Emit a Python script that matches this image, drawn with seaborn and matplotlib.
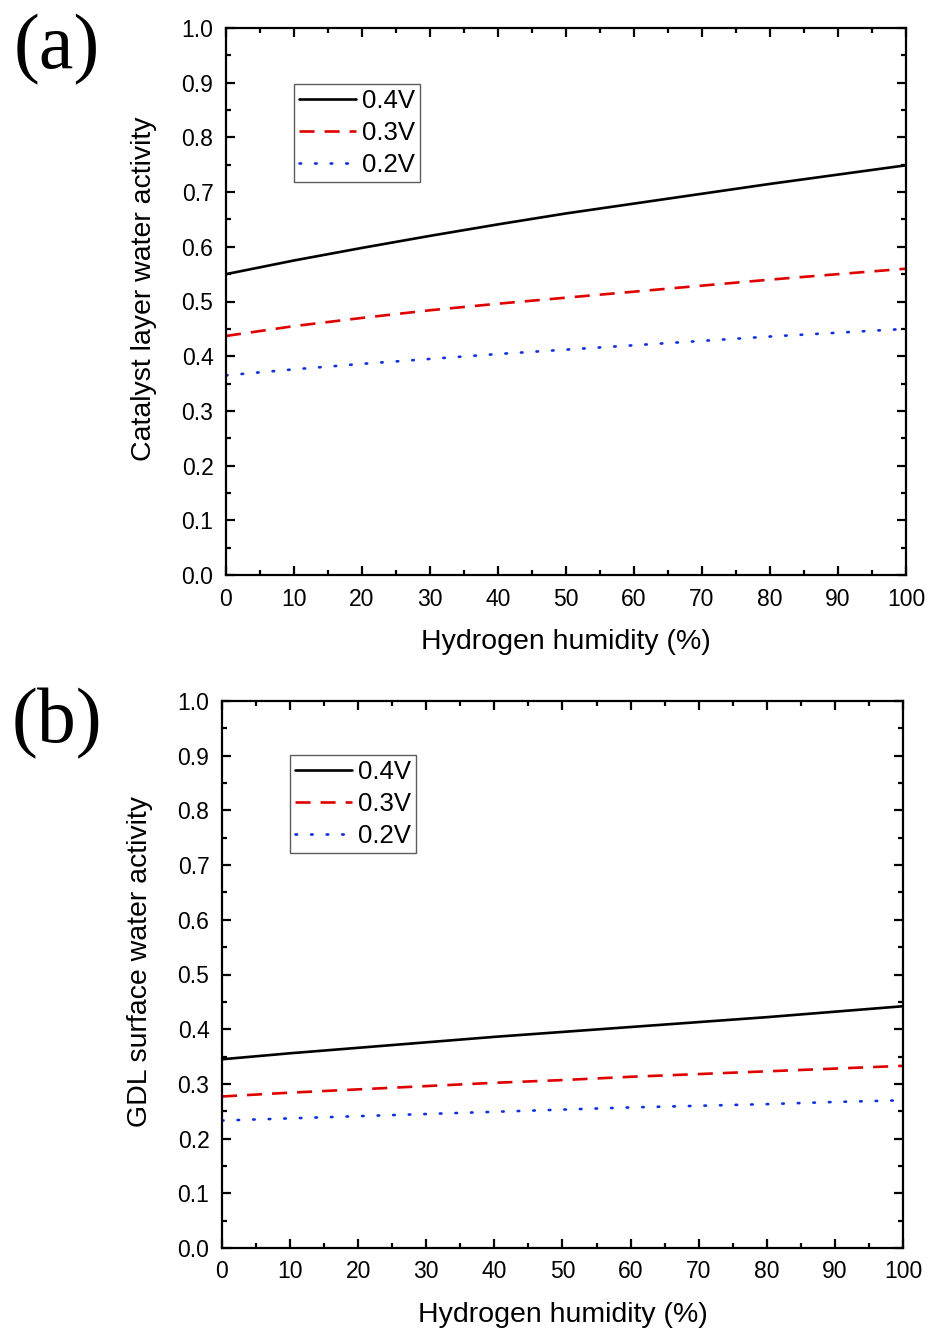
import numpy as np
import pandas as pd
import matplotlib
matplotlib.use("Agg")
import matplotlib.pyplot as plt
from matplotlib.ticker import MultipleLocator
import seaborn as sns

# ---- data ----
humidity = [0, 10, 20, 30, 40, 50, 60, 70, 80, 90, 100]
labels = ["0.4V", "0.3V", "0.2V"]

cl_04 = [0.550, 0.575, 0.598, 0.620, 0.641, 0.661, 0.679, 0.697, 0.715, 0.732, 0.749]
cl_03 = [0.437, 0.455, 0.470, 0.484, 0.496, 0.507, 0.518, 0.529, 0.540, 0.550, 0.560]
cl_02 = [0.365, 0.376, 0.386, 0.395, 0.404, 0.412, 0.420, 0.428, 0.436, 0.443, 0.450]

gdl_04 = [0.345, 0.356, 0.366, 0.376, 0.386, 0.395, 0.404, 0.413, 0.422, 0.432, 0.442]
gdl_03 = [0.277, 0.284, 0.290, 0.296, 0.302, 0.307, 0.313, 0.318, 0.323, 0.328, 0.333]
gdl_02 = [0.233, 0.237, 0.241, 0.245, 0.249, 0.253, 0.257, 0.260, 0.263, 0.267, 0.270]

xlabel = "Hydrogen humidity (%)"
ylabel_a = "Catalyst layer water activity"
ylabel_b = "GDL surface water activity"

# ---- style ----
sns.set_style("ticks")
plt.rcParams["font.family"] = ["Liberation Sans", "DejaVu Sans"]
plt.rcParams["text.color"] = "black"
plt.rcParams["axes.labelcolor"] = "black"
plt.rcParams["xtick.color"] = "black"
plt.rcParams["ytick.color"] = "black"

colors = ["black", "#e00000", "#1030e0"]
dashes = [None, (5.7, 3.8), (0.6, 5.3)]
caps = [None, "butt", "round"]

fig = plt.figure(figsize=(9.28, 13.32), dpi=100)
W, H = 928, 1332


def make_axes(x0, y0, x1, y1):
    return fig.add_axes([x0 / W, 1 - y1 / H, (x1 - x0) / W, (y1 - y0) / H])


ax_a = make_axes(226, 28, 906, 575)
ax_b = make_axes(222, 701, 903, 1248)


def draw(ax, series, ylabel, panel, panel_y, leg_anchor):
    for vals, lab, col, d, cap in zip(series, labels, colors, dashes, caps):
        df = pd.DataFrame({"x": humidity, "y": vals})
        sns.lineplot(data=df, x="x", y="y", ax=ax, color=col, label=lab,
                     linewidth=1.9, legend=False)
        line = ax.lines[-1]
        if d is not None:
            line.set_dashes(d)
            line.set_dash_capstyle(cap)
    ax.set_xlim(0, 100)
    ax.set_ylim(0, 1.0)
    ax.xaxis.set_major_locator(MultipleLocator(10))
    ax.xaxis.set_minor_locator(MultipleLocator(5))
    ax.yaxis.set_major_locator(MultipleLocator(0.1))
    ax.yaxis.set_minor_locator(MultipleLocator(0.05))
    ax.yaxis.set_major_formatter(matplotlib.ticker.FormatStrFormatter("%.1f"))
    for s in ax.spines.values():
        s.set_visible(True)
        s.set_linewidth(1.6)
        s.set_color("black")
    ax.tick_params(which="both", direction="in", top=True, right=True,
                   width=1.6, colors="black", labelsize=16.5, pad=9)
    ax.tick_params(which="major", length=6.5)
    ax.tick_params(which="minor", length=3.5)
    ax.set_xlabel(xlabel, fontsize=20.5, labelpad=13)
    ax.set_ylabel(ylabel, fontsize=20.5, labelpad=18, y=0.524)
    leg = ax.legend(loc="upper left", bbox_to_anchor=leg_anchor, fontsize=18.5,
                    frameon=True, fancybox=False, handlelength=2.2,
                    handletextpad=0.25, borderpad=0.2, labelspacing=0.3,
                    borderaxespad=0)
    leg.get_frame().set_edgecolor("#333333")
    leg.get_frame().set_linewidth(1.0)
    for t in leg.get_texts():
        t.set_color("black")
    fig.text(57 / W, 1 - panel_y / H, panel, fontsize=56, color="black",
             family=["Liberation Serif", "DejaVu Serif"], ha="center", va="center")


draw(ax_a, [cl_04, cl_03, cl_02], ylabel_a, "(a)", 50, (0.1, 0.8976))
draw(ax_b, [gdl_04, gdl_03, gdl_02], ylabel_b, "(b)", 724, (0.0999, 0.901))

fig.savefig("out.png", dpi=100)
